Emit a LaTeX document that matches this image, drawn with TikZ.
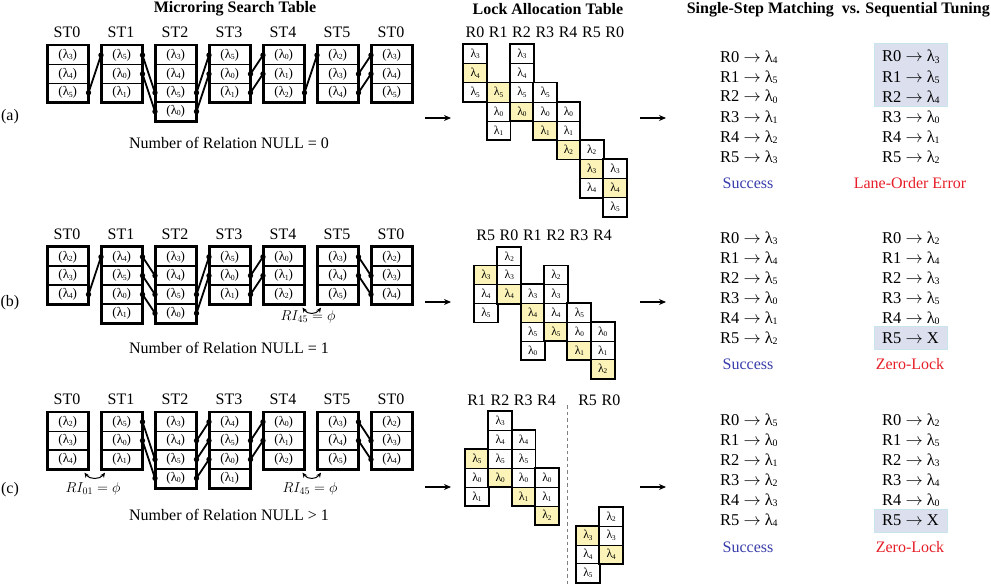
\documentclass[tikz,border=0pt]{standalone}
\usepackage{fontspec}
\setmainfont{Liberation Serif}
\usetikzlibrary{arrows.meta}
\definecolor{lyel}{RGB}{251,243,184}
\definecolor{sblue}{RGB}{55,60,170}
\definecolor{ered}{RGB}{230,30,40}
\definecolor{hlfill}{RGB}{220,223,238}
\definecolor{hldraw}{RGB}{200,228,236}
\newcommand\lam[1]{λ\kern-0.3pt\raisebox{-0.2ex}{\scalebox{0.6}{#1}}}
% search table: prefix, x, ytop, nrows, list
\newcommand\sttab[5]{%
  \foreach \v [count=\i] in {#5} {\node[stcell] (#1-\i) at ({#2},{#3+(\i-1)*18.8}) {(\lam{\v})};}
  \draw[stouter] (#1-1.north west) rectangle (#1-#4.south east);}
% lock column: prefix, x, ytop, rowheight, nrows, list v/fill
\newcommand\lcol[6]{%
  \foreach \v/\f [count=\i] in {#6} {\node[lcell, minimum height=#4, fill=\f] (#1-\i) at ({#2},{#3+(\i-1)*#4}) {\lam{\v}};}
  \draw[louter] (#1-1.north west) rectangle (#1-#5.south east);}
\newcommand\lnk[2]{\draw[conn] (#1.east) -- (#2.west); \fill (#1.east) circle (2.7) (#2.west) circle (2.7);}
\begin{document}
\begin{tikzpicture}[x=1pt,y=-1pt,
  stcell/.style={draw, line width=1.5pt, minimum width=40, minimum height=18.8, inner sep=0, anchor=north west, font=\fontsize{13}{14}\selectfont},
  stouter/.style={line width=2.4pt},
  lcell/.style={draw, line width=0.6pt, minimum width=23.3, inner sep=0, anchor=north west, font=\fontsize{12}{13}\selectfont},
  louter/.style={line width=1.9pt},
  conn/.style={line width=1.8pt},
  lbl/.style={font=\fontsize{16}{18}\selectfont, inner sep=0},
  ril/.style={font=\fontsize{14.5}{16}\selectfont, inner sep=0},
  ttl/.style={font=\fontsize{16}{18}\selectfont\bfseries, inner sep=0},
  res/.style={font=\fontsize{16.5}{18}\selectfont, inner sep=0, anchor=west},
  bigarr/.style={line width=1.5pt, -{Stealth[length=7pt,width=6pt]}},
  riarr/.style={line width=1pt, {Stealth[length=5pt,width=4.5pt]}-{Stealth[length=5pt,width=4.5pt]}},
  hl/.style={draw=hldraw, fill=hlfill, line width=1pt}]
\useasboundingbox (0,0) rectangle (991,585);

% ---------- titles
\node[ttl] (t1) at (235,9) {Microring Search Table};
\node[ttl] (t2) at (548,9) {Lock Allocation Table};
\node[ttl, anchor=east] (t3) at (990,10) {Single-Step Matching\ \ vs. Sequential Tuning};

% ---------- panel labels
\node[lbl] (pa) at (10,117) {(a)};
\node[lbl] (pb) at (10,303) {(b)};
\node[lbl] (pc) at (10,490) {(c)};

% ---------- ST headers
\foreach \n/\k in {0/0,1/1,2/2,3/3,4/4,5/5,0/6} {
  \node[lbl] (ha\k) at ({67+54*\k},32) {ST\n};
  \node[lbl] (hb\k) at ({67+54*\k},234) {ST\n};
  \node[lbl] (hc\k) at ({67+54*\k},399) {ST\n};
}

% ---------- (a) search table
\sttab{a0}{47}{45}{3}{3,4,5}
\sttab{a1}{101}{45}{3}{5,0,1}
\sttab{a2}{155}{45}{4}{3,4,5,0}
\sttab{a3}{209}{45}{3}{5,0,1}
\sttab{a4}{263}{45}{3}{0,1,2}
\sttab{a5}{317}{45}{3}{2,3,4}
\sttab{a6}{371}{45}{3}{3,4,5}
\lnk{a0-3}{a1-1}
\lnk{a1-1}{a2-3}\lnk{a1-2}{a2-4}
\lnk{a2-3}{a3-1}\lnk{a2-4}{a3-2}
\lnk{a3-2}{a4-1}\lnk{a3-3}{a4-2}
\lnk{a4-3}{a5-1}
\lnk{a5-2}{a6-1}\lnk{a5-3}{a6-2}
\node[lbl] (na) at (229,143) {Number of Relation NULL = 0};

% ---------- (b) search table
\sttab{b0}{47}{246.7}{3}{2,3,4}
\sttab{b1}{101}{246.7}{4}{4,5,0,1}
\sttab{b2}{155}{246.7}{4}{3,4,5,0}
\sttab{b3}{209}{246.7}{3}{5,0,1}
\sttab{b4}{263}{246.7}{3}{0,1,2}
\sttab{b5}{317}{246.7}{3}{3,4,5}
\sttab{b6}{371}{246.7}{3}{2,3,4}
\lnk{b0-3}{b1-1}
\lnk{b1-1}{b2-2}\lnk{b1-2}{b2-3}\lnk{b1-3}{b2-4}
\lnk{b2-3}{b3-1}\lnk{b2-4}{b3-2}
\lnk{b3-2}{b4-1}\lnk{b3-3}{b4-2}
\lnk{b5-1}{b6-2}\lnk{b5-2}{b6-3}
\coordinate (rb1) at ([shift={(-2,3)}]b4-3.south east);
\coordinate (rb2) at ([shift={(4,3)}]b5-3.south west);
\draw[riarr] (rb1) .. controls +(5,7) and +(-5,7) .. (rb2);
\node[ril] (rib) at (308,317) {$RI_{45}=\phi$};
\node[lbl] (nb) at (229,348) {Number of Relation NULL = 1};

% ---------- (c) search table
\sttab{c0}{47}{411.7}{3}{2,3,4}
\sttab{c1}{101}{411.7}{3}{5,0,1}
\sttab{c2}{155}{411.7}{4}{3,4,5,0}
\sttab{c3}{209}{411.7}{4}{4,5,0,1}
\sttab{c4}{263}{411.7}{3}{0,1,2}
\sttab{c5}{317}{411.7}{3}{3,4,5}
\sttab{c6}{371}{411.7}{3}{2,3,4}
\lnk{c1-1}{c2-3}\lnk{c1-2}{c2-4}
\lnk{c2-2}{c3-1}\lnk{c2-3}{c3-2}\lnk{c2-4}{c3-3}
\lnk{c3-2}{c4-1}\lnk{c3-3}{c4-2}
\lnk{c5-1}{c6-2}\lnk{c5-2}{c6-3}
\coordinate (rc1) at ([shift={(-4,3)}]c0-3.south east);
\coordinate (rc2) at ([shift={(4,3)}]c1-3.south west);
\draw[riarr] (rc1) .. controls +(5,7) and +(-5,7) .. (rc2);
\coordinate (rc3) at ([shift={(-2,3)}]c4-3.south east);
\coordinate (rc4) at ([shift={(4,3)}]c5-3.south west);
\draw[riarr] (rc3) .. controls +(5,7) and +(-5,7) .. (rc4);
\node[ril] (ric1) at (93,489) {$RI_{01}=\phi$};
\node[ril] (ric2) at (310,489) {$RI_{45}=\phi$};
\node[lbl] (nc) at (229,515) {Number of Relation NULL > 1};

% ---------- arrows
\foreach \y/\p in {118/a,302/b,487/c} {
  \coordinate (\p s1) at (425,\y); \coordinate (\p e1) at (451,\y);
  \coordinate (\p s2) at (640,\y); \coordinate (\p e2) at (666,\y);
  \draw[bigarr] (\p s1) -- (\p e1);
  \draw[bigarr] (\p s2) -- (\p e2);
}

% ---------- (a) lock table
\foreach \n/\k in {0/0,1/1,2/2,3/3,4/4,5/5,0/6}
  \node[lbl] (lha\k) at ({463.3+23.3*(\k+0.5)},32) {R\n};
\lcol{la0}{463.3}{44.3}{19.1}{3}{3/white,4/lyel,5/white}
\lcol{la1}{486.6}{44.3+2*19.1}{19.1}{3}{5/lyel,0/white,1/white}
\lcol{la2}{509.9}{44.3}{19.1}{4}{3/white,4/white,5/white,0/lyel}
\lcol{la3}{533.2}{44.3+2*19.1}{19.1}{3}{5/white,0/white,1/lyel}
\lcol{la4}{556.5}{44.3+3*19.1}{19.1}{3}{0/white,1/white,2/lyel}
\lcol{la5}{579.8}{44.3+5*19.1}{19.1}{3}{2/white,3/lyel,4/white}
\lcol{la6}{603.1}{44.3+6*19.1}{19.1}{3}{3/white,4/lyel,5/white}

% ---------- (b) lock table
\foreach \n/\k in {5/0,0/1,1/2,2/3,3/4,4/5}
  \node[lbl] (lhb\k) at ({474+23.35*(\k+0.5)},235) {R\n};
\lcol{lb0}{474}{246.7+18.8}{18.8}{3}{3/lyel,4/white,5/white}
\lcol{lb1}{497.35}{246.7}{18.8}{3}{2/white,3/white,4/lyel}
\lcol{lb2}{520.7}{246.7+2*18.8}{18.8}{4}{3/white,4/lyel,5/white,0/white}
\lcol{lb3}{544.05}{246.7+18.8}{18.8}{4}{2/white,3/white,4/white,5/lyel}
\lcol{lb4}{567.4}{246.7+3*18.8}{18.8}{3}{5/white,0/white,1/lyel}
\lcol{lb5}{590.75}{246.7+4*18.8}{18.8}{3}{0/white,1/white,2/lyel}

% ---------- (c) lock table
\foreach \n/\k in {1/0,2/1,3/2,4/3}
  \node[lbl] (lhc\k) at ({465+23.3*(\k+0.5)},400) {R\n};
\node[lbl] (lhc4) at (587.6,400) {R5};
\node[lbl] (lhc5) at (611,400) {R0};
\lcol{lc0}{465}{411+2*18.9}{18.9}{3}{5/lyel,0/white,1/white}
\lcol{lc1}{488.3}{411}{18.9}{4}{3/white,4/white,5/white,0/lyel}
\lcol{lc2}{511.6}{411+18.9}{18.9}{4}{4/white,5/white,0/white,1/lyel}
\lcol{lc3}{534.9}{411+3*18.9}{18.9}{3}{0/white,1/white,2/lyel}
\lcol{lc4}{576}{525.6}{18.9}{3}{3/lyel,4/white,5/white}
\lcol{lc5}{599.3}{506.7}{18.9}{3}{2/white,3/white,4/lyel}
\coordinate (ds1) at (567.7,405);
\coordinate (ds2) at (567.7,585);
\draw[line width=1.3pt, gray, dash pattern=on 3.5pt off 3pt] (ds1) -- (ds2);

% ---------- results
\draw[hl] (874,44) rectangle (947,107);
\draw[hl] (874,327) rectangle (947,350);
\draw[hl] (874,509) rectangle (947,532);

\foreach \r/\l [count=\i from 0] in {0/4,1/5,2/0,3/1,4/2,5/3}
  \node[res] (ral\i) at (720,{57+\i*20}) {R\r\ $\rightarrow$ \lam{\l}};
\foreach \r/\l [count=\i from 0] in {0/3,1/5,2/4,3/0,4/1,5/2}
  \node[res] (rar\i) at (882,{57+\i*20}) {R\r\ $\rightarrow$ \lam{\l}};
\node[lbl, text=sblue] (sa) at (748,183) {Success};
\node[lbl, text=ered] (ea) at (910,183) {Lane-Order Error};

\foreach \r/\l [count=\i from 0] in {0/3,1/4,2/5,3/0,4/1,5/2}
  \node[res] (rbl\i) at (720,{238+\i*20}) {R\r\ $\rightarrow$ \lam{\l}};
\foreach \r/\l [count=\i from 0] in {0/2,1/4,2/3,3/5,4/0}
  \node[res] (rbr\i) at (882,{238+\i*20}) {R\r\ $\rightarrow$ \lam{\l}};
\node[res] (rbr5) at (882,338) {R5 $\rightarrow$ X};
\node[lbl, text=sblue] (sb) at (748,364) {Success};
\node[lbl, text=ered] (eb) at (910,364) {Zero-Lock};

\foreach \r/\l [count=\i from 0] in {0/5,1/0,2/1,3/2,4/3,5/4}
  \node[res] (rcl\i) at (720,{420+\i*20}) {R\r\ $\rightarrow$ \lam{\l}};
\foreach \r/\l [count=\i from 0] in {0/2,1/5,2/3,3/4,4/0}
  \node[res] (rcr\i) at (882,{420+\i*20}) {R\r\ $\rightarrow$ \lam{\l}};
\node[res] (rcr5) at (882,520) {R5 $\rightarrow$ X};
\node[lbl, text=sblue] (sc) at (748,547) {Success};
\node[lbl, text=ered] (ec) at (910,547) {Zero-Lock};
\end{tikzpicture}
\end{document}
